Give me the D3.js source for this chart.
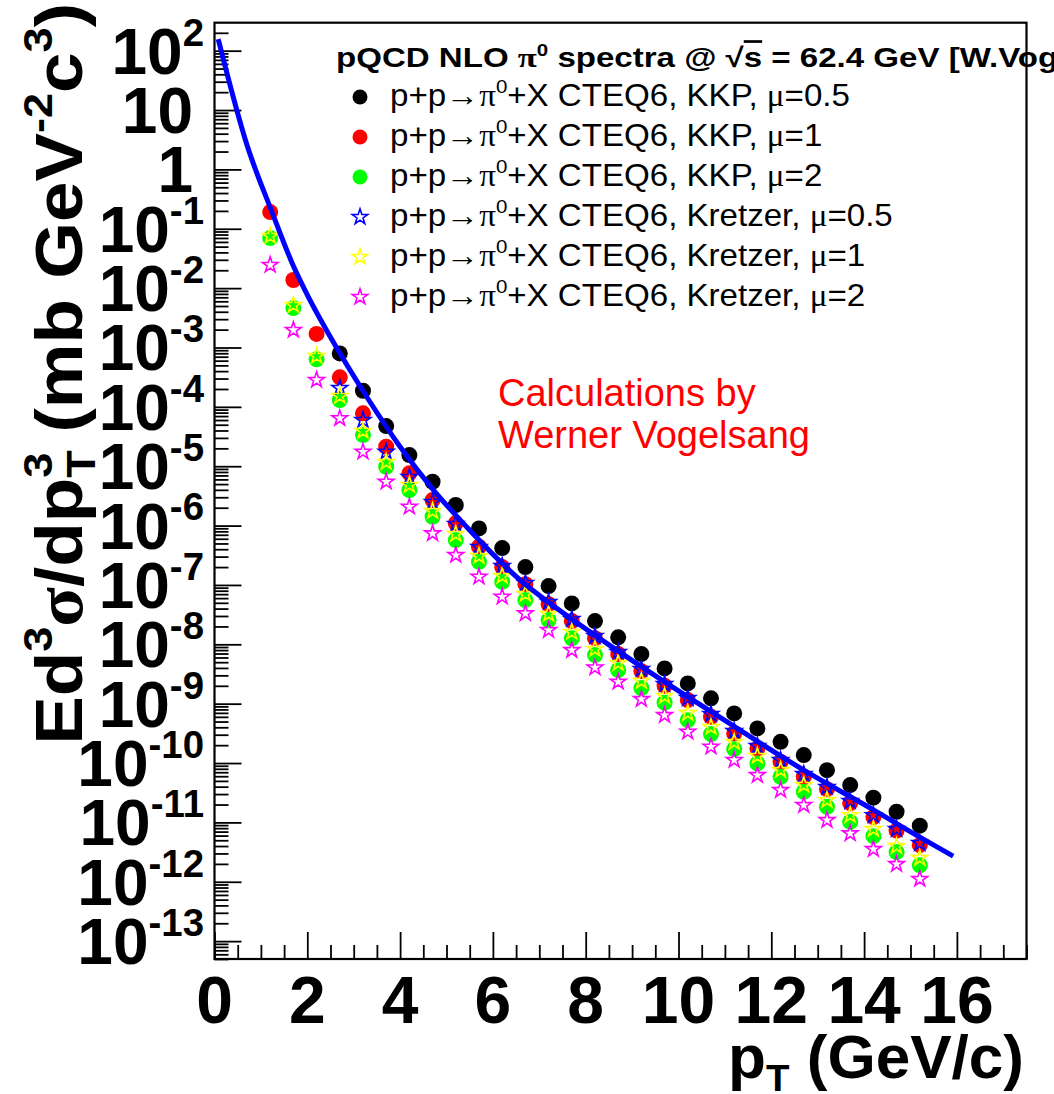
<!DOCTYPE html>
<html>
<head>
<meta charset="utf-8">
<script src="https://cdn.jsdelivr.net/npm/d3@7"></script>
<style>
  body { margin: 0; background: #fff; }
  svg { display: block; }
  text { font-family: "Liberation Sans", Arial, Helvetica, sans-serif; }
</style>
</head>
<body>
<svg id="chart" width="1054" height="1094"></svg>
<script>
// ---------------- data ----------------
// pT bin centres (GeV/c) of the NLO calculations
const pT = [1.2, 1.7, 2.2, 2.7, 3.2, 3.7, 4.2, 4.7, 5.2, 5.7, 6.2, 6.7, 7.2, 7.7, 8.2,
            8.7, 9.2, 9.7, 10.2, 10.7, 11.2, 11.7, 12.2, 12.7, 13.2, 13.7, 14.2, 14.7, 15.2];
// the mu=0.5 calculations start at 2.7 GeV/c
const pTHigh = pT.slice(3);

// E d3sigma/dp3 (mb GeV^-2 c^3)
const kkpMu05 = [7.96e-4, 1.87e-4, 4.75e-5, 1.54e-5, 5.47e-6, 2.22e-6, 8.97e-7, 4.18e-7, 2.00e-7,
  9.57e-8, 4.89e-8, 2.46e-8, 1.31e-8, 6.84e-9, 3.93e-9, 2.19e-9, 1.23e-9, 6.85e-10, 3.83e-10,
  2.28e-10, 1.36e-10, 7.59e-11, 4.25e-11, 2.61e-11, 1.51e-11, 8.81e-12];
const kkpMu1 = [0.191, 1.37e-2, 1.69e-3, 3.14e-4, 7.77e-5, 2.13e-5, 7.58e-6, 2.69e-6, 1.09e-6,
  4.40e-7, 2.00e-7, 1.03e-7, 4.75e-8, 2.46e-8, 1.27e-8, 6.84e-9, 3.53e-9, 2.01e-9, 1.15e-9,
  6.00e-10, 3.15e-10, 1.76e-10, 1.05e-10, 5.85e-11, 3.63e-11, 2.11e-11, 1.23e-11, 7.26e-12, 4.14e-12];
const kkpMu2 = [6.98e-2, 4.62e-3, 6.31e-4, 1.30e-4, 3.35e-5, 9.79e-6, 3.96e-6, 1.41e-6, 5.70e-7,
  2.45e-7, 1.13e-7, 5.56e-8, 2.56e-8, 1.26e-8, 6.58e-9, 3.67e-9, 1.83e-9, 1.04e-9, 5.28e-10,
  3.07e-10, 1.71e-10, 9.84e-11, 5.85e-11, 3.27e-11, 1.83e-11, 1.02e-11, 5.86e-12, 3.16e-12, 1.90e-12];
const kretzerMu05 = [2.07e-4, 5.99e-5, 1.75e-5, 6.56e-6, 2.49e-6, 1.06e-6, 4.35e-7, 2.08e-7, 1.07e-7,
  5.14e-8, 2.66e-8, 1.37e-8, 7.39e-9, 3.82e-9, 2.13e-9, 1.24e-9, 6.67e-10, 3.45e-10, 1.93e-10,
  1.12e-10, 6.50e-11, 3.93e-11, 2.28e-11, 1.32e-11, 7.69e-12, 4.47e-12];
const kretzerMu1 = [7.55e-2, 5.19e-3, 7.18e-4, 1.52e-4, 3.91e-5, 1.17e-5, 4.81e-6, 1.75e-6, 7.19e-7,
  3.06e-7, 1.41e-7, 7.02e-8, 3.23e-8, 1.61e-8, 8.30e-9, 4.82e-9, 2.40e-9, 1.34e-9, 6.93e-10,
  4.03e-10, 2.25e-10, 1.31e-10, 7.59e-11, 4.25e-11, 2.37e-11, 1.32e-11, 7.69e-12, 3.98e-12, 2.50e-12];
const kretzerMu2 = [2.45e-2, 1.97e-3, 2.83e-4, 6.40e-5, 1.75e-5, 5.47e-6, 2.07e-6, 7.39e-7, 3.18e-7,
  1.37e-7, 6.31e-8, 3.32e-8, 1.73e-8, 7.98e-9, 4.05e-9, 2.33e-9, 1.19e-9, 6.41e-10, 3.36e-10,
  1.88e-10, 1.12e-10, 6.25e-11, 3.49e-11, 1.95e-11, 1.09e-11, 6.52e-12, 3.54e-12, 1.98e-12, 1.11e-12];

// fitted spectrum (blue curve)
const fitPt = [0.08, 0.70, 1.24, 1.71, 1.97, 2.70, 3.28, 4.00, 4.72, 5.43, 6.51,
  7.73, 8.67, 9.75, 10.82, 12.70, 14.21, 15.20, 15.92];
const fitValue = [157, 2.58, 0.191, 2.27e-2, 8.6e-3, 8.05e-4, 1.48e-4, 2.13e-5,
  3.96e-6, 9.55e-7, 1.37e-7, 2.56e-8, 7.98e-9, 2.19e-9, 6.41e-10, 7.59e-11, 1.61e-11, 5.64e-12, 2.70e-12];

// axis ticks
const xTickLabels = [0, 2, 4, 6, 8, 10, 12, 14, 16];
const yTickExponents = [2, 1, 0, -1, -2, -3, -4, -5, -6, -7, -8, -9, -10, -11, -12, -13];

// series styles / legend
const series = [
  { name: "KKP, ", mu: "0.5", x: pTHigh, v: kkpMu05,     color: "#000000", kind: "dot" },
  { name: "KKP, ", mu: "1",   x: pT,     v: kkpMu1,      color: "#ff0000", kind: "dot" },
  { name: "KKP, ", mu: "2",   x: pT,     v: kkpMu2,      color: "#00ff00", kind: "dot" },
  { name: "Kretzer, ", mu: "0.5", x: pTHigh, v: kretzerMu05, color: "#0000ff", kind: "star" },
  { name: "Kretzer, ", mu: "1",   x: pT,     v: kretzerMu1,  color: "#ffff00", kind: "star" },
  { name: "Kretzer, ", mu: "2",   x: pT,     v: kretzerMu2,  color: "#ff00ff", kind: "star" }
];

// ---------------- layout ----------------
const svg = d3.select("#chart");
const frame = { left: 214.5, right: 1026.5, top: 22.7, bottom: 959 };
const x = d3.scaleLinear().domain([0, 17.5]).range([frame.left, frame.right]);
const y = d3.scaleLog().domain([5e-14, 296]).range([frame.bottom, frame.top]);

svg.append("rect").attr("width", 1054).attr("height", 1094).attr("fill", "#fff");

// rich text helper: parts = [{t, size (rel), shift (rel, up), serif, dx, over}]
function richText(sel, parts, fontSize) {
  let cur = 0;
  parts.forEach(p => {
    const rel = p.size || 1;
    const shift = (p.shift || 0) * fontSize;
    const ts = sel.append("tspan").text(p.t)
      .attr("font-size", fontSize * rel)
      .attr("dy", -(shift - cur));
    cur = shift;
    if (p.serif) ts.attr("font-family", "'Liberation Serif', 'DejaVu Serif', serif");
    if (p.dx) ts.attr("dx", p.dx);
    if (p.over) ts.style("text-decoration", "overline");
    p.node = ts.node();
  });
  return sel;
}
// horizontal stretch factor so that a text run spans the wanted length
const stretchTo = (node, len) => len / node.getComputedTextLength();

// ---------------- axes (ticks) ----------------
const xMinor = d3.range(0, 17.51, 0.5).filter(v => v % 2 !== 0);
const gxMin = svg.append("g").attr("transform", `translate(0,${frame.bottom})`)
  .call(d3.axisBottom(x).tickValues(xMinor).tickSize(-14).tickFormat(""));
const gxMaj = svg.append("g").attr("transform", `translate(0,${frame.bottom})`)
  .call(d3.axisBottom(x).tickValues(xTickLabels).tickSize(-27).tickFormat(""));

const yMajorVals = d3.range(-13, 3).map(e => Math.pow(10, e));
const yMinorVals = [];
for (let e = -14; e <= 2; e++) for (let m = 2; m <= 9; m++) {
  const v = m * Math.pow(10, e);
  if (v >= 5e-14 && v <= 296) yMinorVals.push(v);
}
const gyMin = svg.append("g").attr("transform", `translate(${frame.left},0)`)
  .call(d3.axisLeft(y).tickValues(yMinorVals).tickSize(-14).tickFormat(""));
const gyMaj = svg.append("g").attr("transform", `translate(${frame.left},0)`)
  .call(d3.axisLeft(y).tickValues(yMajorVals).tickSize(-27).tickFormat(""));

[gxMin, gxMaj, gyMin, gyMaj].forEach(g => {
  g.select(".domain").remove();
  g.selectAll(".tick line").attr("stroke", "#000").attr("stroke-width", 1.8);
});

// frame
svg.append("rect")
  .attr("x", frame.left).attr("y", frame.top)
  .attr("width", frame.right - frame.left).attr("height", frame.bottom - frame.top)
  .attr("fill", "none").attr("stroke", "#000").attr("stroke-width", 2.2);

// x tick labels
svg.append("g").selectAll("text").data(xTickLabels).join("text")
  .attr("x", d => x(d)).attr("y", 1023)
  .attr("text-anchor", "middle").attr("font-weight", "bold").attr("font-size", 66)
  .text(d => d);

// y tick labels
const labelFs = 64;
yTickExponents.forEach(e => {
  const yy = y(Math.pow(10, e)) + 23;
  const t = svg.append("text").attr("y", yy).attr("text-anchor", "end")
    .attr("font-weight", "bold");
  if (e === 1 || e === 0) {
    t.attr("x", 193).attr("font-size", labelFs).text(e === 1 ? "10" : "1");
  } else {
    t.attr("x", 204);
    richText(t, [{ t: "10" }, { t: String(e), size: 0.6, shift: 0.44 }], labelFs);
  }
});

// axis titles
const yTitle = svg.append("text").attr("text-anchor", "end").attr("font-weight", "bold");
const yParts = [
  { t: "Ed" }, { t: "3", size: 0.62, shift: 0.45 }, { t: "σ", serif: true }, { t: "/dp" },
  { t: "T", size: 0.62, shift: -0.2 }, { t: "3", size: 0.62, shift: 0.45 },
  { t: " (mb GeV" }, { t: "-2", size: 0.62, shift: 0.45 }, { t: "c" },
  { t: "3", size: 0.62, shift: 0.45 }, { t: ")" }
];
richText(yTitle, yParts, 67);
// stack the exponent over the subscript
d3.select(yParts[5].node).attr("dx", -yParts[4].node.getComputedTextLength());
const yTitleScale = 742 / yTitle.node().getBBox().width;
yTitle.attr("transform", `translate(82,3) rotate(-90) scale(${yTitleScale},1)`);

const xTitle = svg.append("text").attr("text-anchor", "end").attr("font-weight", "bold");
richText(xTitle, [{ t: "p" }, { t: "T", size: 0.62, shift: -0.22 }, { t: " (GeV/c)" }], 61);
xTitle.attr("transform", `translate(1024,1078) scale(${stretchTo(xTitle.node(), 296)},1)`);

// ---------------- data marks ----------------
const starPath = d3.symbol(d3.symbolStar, 76)();
const marks = svg.append("g");
series.filter(s => s.kind === "dot").forEach(s => {
  marks.append("g").selectAll("circle").data(s.x.map((px, i) => [px, s.v[i]])).join("circle")
    .attr("cx", d => x(d[0])).attr("cy", d => y(d[1])).attr("r", 8)
    .attr("fill", s.color);
});
series.filter(s => s.kind === "star").forEach(s => {
  marks.append("g").selectAll("path").data(s.x.map((px, i) => [px, s.v[i]])).join("path")
    .attr("d", starPath)
    .attr("transform", d => `translate(${x(d[0])},${y(d[1])})`)
    .attr("fill", "none").attr("stroke", s.color).attr("stroke-width", 1.6);
});

// fitted curve
const fitLine = d3.line().x(d => x(d[0])).y(d => y(d[1])).curve(d3.curveMonotoneX);
svg.append("path")
  .datum(fitPt.map((p, i) => [p, fitValue[i]]))
  .attr("d", fitLine)
  .attr("fill", "none").attr("stroke", "#0000ff").attr("stroke-width", 5)
  .attr("stroke-linejoin", "round");

// ---------------- legend ----------------
const legend = svg.append("g");
const title = legend.append("text").attr("font-weight", "bold");
const titleParts = [
  { t: "pQCD NLO " }, { t: "π", serif: true, size: 1.05 }, { t: "0", size: 0.62, shift: 0.42 },
  { t: " spectra @ " }, { t: "√" }, { t: "s", over: true }, { t: " = 62.4 GeV " },
  { t: "[W.Vogelsang]" }
];
richText(title, titleParts, 27);
const titleLead = titleParts.slice(0, 7).reduce((a, p) => a + p.node.getComputedTextLength(), 0);
title.attr("transform", `translate(336,67) scale(${613 / titleLead},1)`);

const entryTexts = [];
series.forEach((s, i) => {
  const cy = 97 + 40 * i;
  if (s.kind === "dot") {
    legend.append("circle").attr("cx", 360).attr("cy", cy).attr("r", 7.5).attr("fill", s.color);
  } else {
    legend.append("path").attr("d", starPath).attr("transform", `translate(360,${cy})`)
      .attr("fill", "none").attr("stroke", s.color).attr("stroke-width", 1.6);
  }
  const t = legend.append("text");
  richText(t, [
    { t: "p+p" }, { t: "→" }, { t: "π", serif: true },
    { t: "0", size: 0.62, shift: 0.42 }, { t: "+X CTEQ6, " + s.name },
    { t: "μ", serif: true }, { t: "=" + s.mu }
  ], 31);
  entryTexts.push({ t, cy });
});
// common stretch, set by the longest entry
const entryScale = stretchTo(entryTexts[3].t.node(), 503);
entryTexts.forEach(({ t, cy }) =>
  t.attr("transform", `translate(390,${cy + 9}) scale(${entryScale},1)`));

// credit
const credit = svg.append("text").attr("fill", "#ff0000").attr("font-size", 38);
credit.append("tspan").attr("x", 498).attr("y", 406).text("Calculations by");
credit.append("tspan").attr("x", 498).attr("y", 448).text("Werner Vogelsang");
</script>
</body>
</html>
